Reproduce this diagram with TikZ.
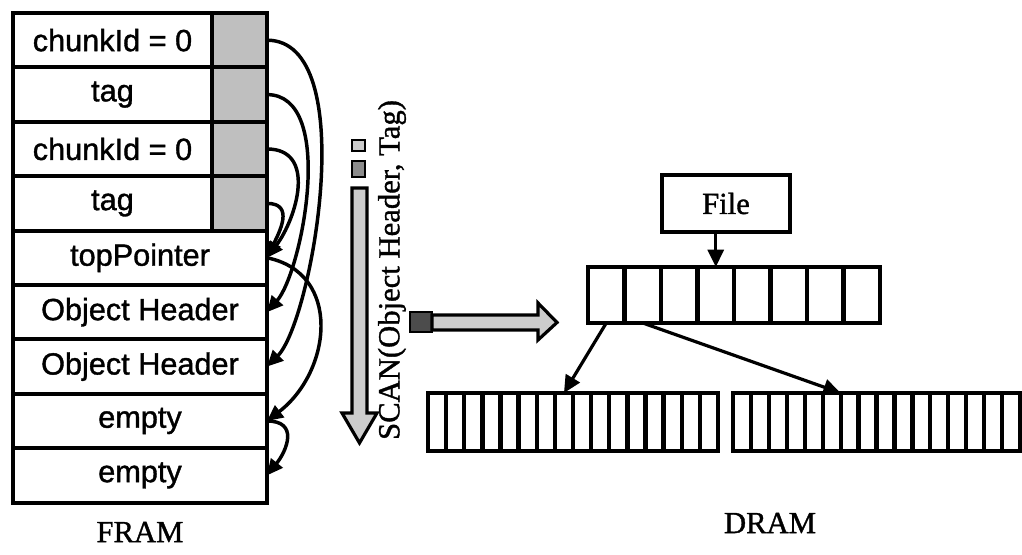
\documentclass[tikz,border=0pt]{standalone}
\usepackage{fontspec}
\setmainfont[FakeBold=1.2]{Liberation Serif}
\newfontfamily\cellfont[FakeBold=1.2]{Liberation Sans}
\usetikzlibrary{arrows.meta}
\tikzset{
  framcell/.style={draw, line width=3pt, inner sep=0pt, outer sep=0pt, anchor=north west,
    minimum height=40.8pt, font=\cellfont\fontsize{23}{27}\selectfont},
  greycell/.style={framcell, fill=black!25, minimum width=41.25pt},
  arrcell/.style={draw, line width=3.2pt, inner sep=0pt, outer sep=0pt, anchor=north west},
  link/.style={line width=2.6pt, -{Triangle[length=12pt,width=11pt]}},
  ptr/.style={line width=2.4pt, -{Triangle[length=13pt,width=12pt]}},
  fatarrow/.style={draw, line width=2.4pt, fill=black!20, line join=miter},
  memname/.style={font=\fontsize{23}{27}\selectfont},
}
\begin{document}
\begin{tikzpicture}[x=0.75pt,y=-0.75pt]
\useasboundingbox (0,0) rectangle (1022,555);
% FRAM
\node[framcell, minimum width=149.25pt] (c1) at (13,13) {chunkId = 0};
\node[greycell] (g1) at (c1.north east) {};
\node[framcell, minimum width=149.25pt] (c2) at (13,67.4) {tag};
\node[greycell] (g2) at (c2.north east) {};
\node[framcell, minimum width=149.25pt] (c3) at (13,121.8) {chunkId = 0};
\node[greycell] (g3) at (c3.north east) {};
\node[framcell, minimum width=149.25pt] (c4) at (13,176.2) {tag};
\node[greycell] (g4) at (c4.north east) {};
\node[framcell, minimum width=190.5pt] (tp) at (13,230.6) {topPointer};
\node[framcell, minimum width=190.5pt] (oh1) at (13,285) {Object Header};
\node[framcell, minimum width=190.5pt] (oh2) at (13,339.4) {Object Header};
\node[framcell, minimum width=190.5pt] (e1) at (13,393.8) {empty};
\node[framcell, minimum width=190.5pt] (e2) at (13,448.2) {empty};
\node[memname] (fram) at (140,532) {FRAM};
% pointers inside FRAM
\draw[link] (g1.east) .. controls +(95,0) and +(45,-45) .. (oh2.east);
\draw[link] (g2.east) .. controls +(70,0) and +(35,-40) .. (oh1.east);
\draw[link] (g3.east) .. controls +(50,0) and +(30,-40) .. (tp.east);
\draw[link] (g4.east) .. controls +(28,0) and +(12,-25) .. (tp.east);
\draw[link] (tp.east) .. controls +(75,15) and +(65,-50) .. (e1.east);
\draw[link] (e1.east) .. controls +(32,0) and +(20,-25) .. (e2.east);
% scan
\draw[line width=2.2pt, fill=black!20] (352,140) rectangle (365,151);
\draw[line width=2.2pt, fill=black!45] (352,161) rectangle (365,177);
\draw[fatarrow] (352,188) -- (367,188) -- (367,413) -- (377,413) -- (359.5,443)
  -- (342,413) -- (352,413) -- cycle;
\node[memname, rotate=90] (scan) at (392,270) {SCAN(Object Header, Tag)};
\draw[line width=2.2pt, fill=black!70] (410,312) rectangle (432,332);
\draw[fatarrow] (432,315) -- (538,315) -- (538,303) -- (557,322.5) -- (538,340)
  -- (538,330) -- (432,330) -- cycle;
% DRAM
\node[draw, line width=3pt, minimum width=96pt, minimum height=42.75pt, inner sep=0pt,
  memname] (file) at (726,203.5) {File};
\foreach \i in {1,...,8}
  \node[arrcell, minimum width=27.4pt, minimum height=42pt] (t\i) at ({588+(\i-1)*36.5},267) {};
\foreach \i in {1,...,16}
  \node[arrcell, minimum width=13.6pt, minimum height=43.5pt] (l\i) at ({428+(\i-1)*18.125},393) {};
\foreach \i in {1,...,16}
  \node[arrcell, minimum width=13.45pt, minimum height=43.5pt] (r\i) at ({733+(\i-1)*17.94},393) {};
\draw[ptr] (file.south -| t4.north) -- (t4.north);
\draw[ptr] (t1.south) -- (l8.north);
\draw[ptr] (t2.south) -- (r6.north east);
\node[memname] (dram) at (770,523) {DRAM};
\end{tikzpicture}
\end{document}
